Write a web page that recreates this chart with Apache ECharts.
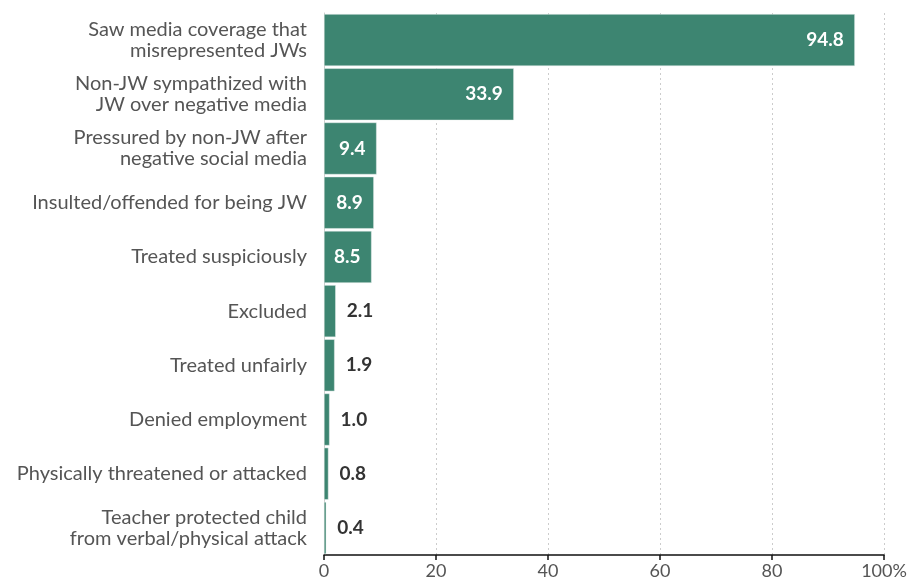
<!DOCTYPE html>
<html><head><meta charset="utf-8">
<script src="https://cdn.jsdelivr.net/npm/echarts@6/dist/echarts.min.js"></script>
<style>html,body{margin:0;padding:0;background:#fff}#c{width:914px;height:581px}</style>
</head><body><div id="c"></div>
<script>
const categories = [
  "Saw media coverage that\nmisrepresented JWs",
  "Non-JW sympathized with\nJW over negative media",
  "Pressured by non-JW after\nnegative social media",
  "Insulted/offended for being JW",
  "Treated suspiciously",
  "Excluded",
  "Treated unfairly",
  "Denied employment",
  "Physically threatened or attacked",
  "Teacher protected child\nfrom verbal/physical attack"
];
const values = [94.8, 33.9, 9.4, 8.9, 8.5, 2.1, 1.9, 1.0, 0.8, 0.4];
const xTicks = [0, 20, 40, 60, 80, 100];

const FONT = "Lato";
const chart = echarts.init(document.getElementById('c'));
chart.setOption({
  animation: false,
  grid: {left: 324, right: 30, top: 13, bottom: 26, containLabel: false},
  xAxis: {
    type: 'value', min: 0, max: 100, interval: 20,
    axisLine: {show: true, lineStyle: {color: '#111', width: 1.5}},
    axisTick: {show: true, length: 5, lineStyle: {color: '#111', width: 1.5}},
    axisLabel: {color: '#555', fontSize: 18, fontFamily: FONT, margin: 7,
      formatter: v => xTicks.includes(v) ? (v === 100 ? '100%' : String(v)) : ''},
    splitLine: {show: true, lineStyle: {color: '#ccc', type: [2, 3], width: 1}}
  },
  yAxis: {
    type: 'category', data: categories, inverse: true,
    axisLine: {show: true, lineStyle: {color: '#ccc', width: 1}},
    axisTick: {show: false},
    axisLabel: {color: '#555', fontSize: 20, fontFamily: FONT, margin: 17, lineHeight: 21, align: 'right'}
  },
  series: [{
    type: 'bar',
    data: values.map(v => ({
      value: v,
      label: v > 5
        ? {position: 'insideRight', distance: 11, color: '#fff'}
        : {position: 'right', distance: 11, color: '#333'}
    })),
    barCategoryGap: '4%',
    itemStyle: {color: '#3d8571', borderColor: '#e6efec', borderWidth: 0.5},
    label: {show: true, fontSize: 19, fontWeight: 'bold', fontFamily: FONT,
      formatter: p => p.value.toFixed(1)}
  }]
});
</script></body></html>
